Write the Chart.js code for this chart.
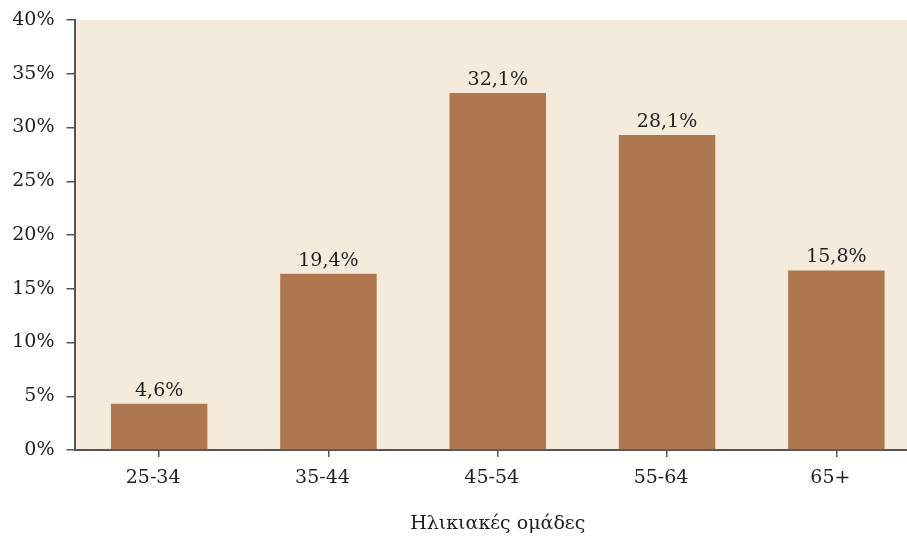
<!DOCTYPE html>
<html>
<head>
<meta charset="utf-8">
<script src="https://cdn.jsdelivr.net/npm/chart.js@4.4.1/dist/chart.umd.min.js"></script>
<style>
  html, body { margin: 0; padding: 0; background: #ffffff; overflow: hidden; }
  #wrap { width: 921px; height: 536px; }
</style>
</head>
<body>
<div id="wrap"><canvas id="c" width="921" height="536"></canvas></div>
<script>
const categories = ['25-34', '35-44', '45-54', '55-64', '65+'];
const barValues = [4.3, 16.4, 33.2, 29.3, 16.7];
const valueLabels = ['4,6%', '19,4%', '32,1%', '28,1%', '15,8%'];
const yMin = 0, yMax = 40, yStep = 5;
const axisTitle = 'Ηλικιακές ομάδες';

const FONT = 'DejaVu Serif';
const FSIZE = 19;
const TEXT = '#1e1e1e';
const AXIS = '#555555';

const areaBg = {
  id: 'areaBg',
  beforeDraw(chart) {
    const { ctx, chartArea: a } = chart;
    ctx.save();
    ctx.fillStyle = '#f5ebdd';
    ctx.fillRect(a.left, a.top, a.right - a.left, a.bottom - a.top);
    ctx.restore();
  }
};

const valueLabelPlugin = {
  id: 'valueLabels',
  afterDatasetsDraw(chart) {
    const { ctx } = chart;
    const meta = chart.getDatasetMeta(0);
    ctx.save();
    ctx.font = FSIZE + 'px "' + FONT + '"';
    ctx.fillStyle = TEXT;
    ctx.textAlign = 'center';
    ctx.textBaseline = 'alphabetic';
    meta.data.forEach((bar, i) => {
      ctx.fillText(valueLabels[i], bar.x, bar.y - 8);
    });
    ctx.restore();
  }
};

new Chart(document.getElementById('c'), {
  type: 'bar',
  data: {
    labels: categories,
    datasets: [{
      data: barValues,
      backgroundColor: '#ae774d',
      borderWidth: 0,
      barPercentage: 0.57,
      categoryPercentage: 1.0
    }]
  },
  options: {
    responsive: false,
    animation: false,
    devicePixelRatio: 1,
    layout: { padding: { top: 20, left: 0, right: 0, bottom: 0 } },
    plugins: {
      legend: { display: false },
      tooltip: { enabled: false }
    },
    scales: {
      x: {
        afterFit(s) { s.height = 86; s.paddingRight = 0; },
        border: { display: true, color: AXIS, width: 2 },
        grid: {
          offset: false,
          drawOnChartArea: false,
          drawTicks: true,
          tickLength: 7,
          color: AXIS,
          lineWidth: 1.5
        },
        ticks: {
          color: TEXT,
          font: { family: FONT, size: FSIZE },
          padding: 10,
          labelOffset: -6
        },
        title: {
          display: true,
          text: axisTitle,
          color: TEXT,
          font: { family: FONT, size: FSIZE },
          padding: { top: 0, bottom: 1 }
        }
      },
      y: {
        min: yMin,
        max: yMax,
        afterFit(s) { s.width = 74.5; s.paddingTop = 0; },
        border: { display: true, color: AXIS, width: 2 },
        grid: {
          drawOnChartArea: false,
          drawTicks: true,
          tickLength: 8,
          color: AXIS,
          lineWidth: 1.5
        },
        ticks: {
          stepSize: yStep,
          color: TEXT,
          font: { family: FONT, size: FSIZE },
          padding: 12,
          callback: v => v + '%'
        }
      }
    }
  },
  plugins: [areaBg, valueLabelPlugin]
});
</script>
</body>
</html>
